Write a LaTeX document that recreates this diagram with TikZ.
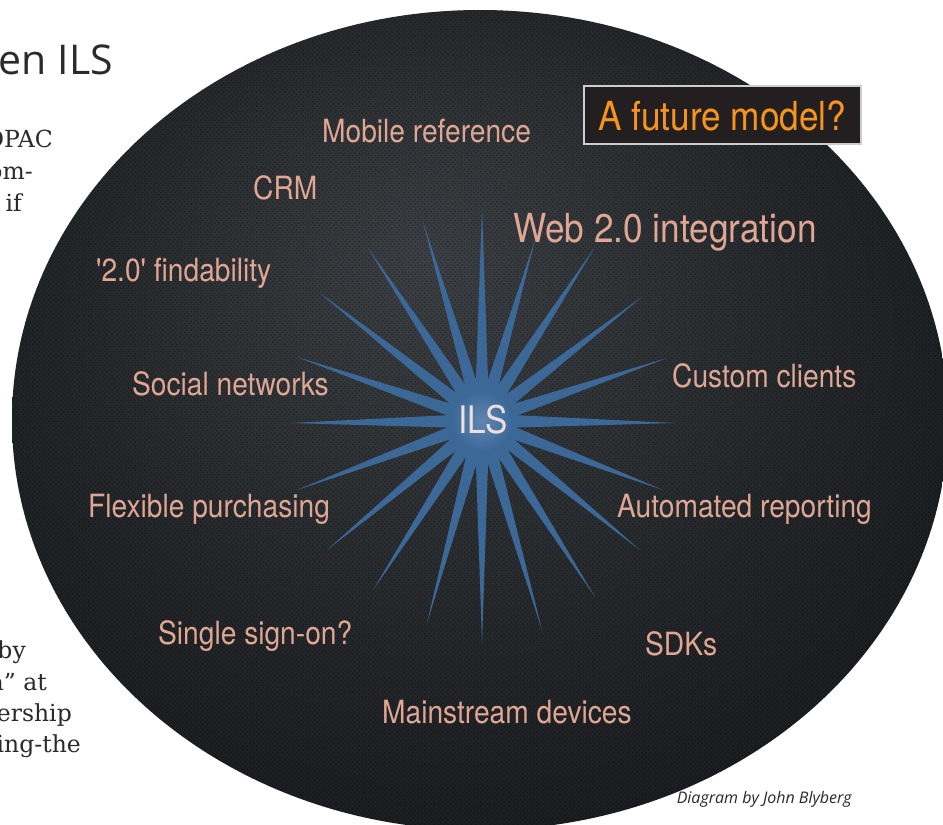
\documentclass[tikz,border=0pt]{standalone}
\usepackage{fontspec}
\usetikzlibrary{calc,patterns.meta,fadings}

\newfontfamily\labelfont{TeX Gyre Heros}[FakeStretch=0.88]
\newfontfamily\headfont{Open Sans}
\newfontfamily\bodyfont{DejaVu Serif}

\definecolor{labelpeach}{RGB}{224,166,148}
\definecolor{rayblue}{RGB}{60,104,152}
\definecolor{hubblue}{RGB}{74,118,166}
\definecolor{boxorange}{RGB}{247,148,29}
\definecolor{boxfill}{RGB}{35,31,32}
\definecolor{boxrim}{RGB}{205,205,205}
\definecolor{glowin}{RGB}{60,64,68}
\definecolor{glowmid}{RGB}{36,39,42}
\definecolor{glowout}{RGB}{11,12,14}
\definecolor{inkgray}{RGB}{42,42,42}
\definecolor{ilswhite}{RGB}{238,222,222}

% soft grey glow over the dark disc, a little above its middle
\pgfdeclareradialshading{meshglow}{\pgfpoint{-3bp}{10bp}}{%
  color(0bp)=(glowin); color(20bp)=(glowmid); color(46bp)=(glowout); color(50bp)=(glowout)}

% rays stay solid near the hub and thin out towards their tips
\pgfdeclareradialshading{raymask}{\pgfpointorigin}{%
  color(0bp)=(white); color(14bp)=(white); color(26bp)=(black!75!white); color(50bp)=(black)}
\pgfdeclarefading{rayfade}{\pgfuseshading{raymask}}

\tikzset{
  topic/.style={font=\labelfont\fontsize{32}{32}\selectfont, text=labelpeach,
                inner sep=0pt, anchor=base west},
  bigtopic/.style={topic, font=\labelfont\fontsize{40}{40}\selectfont},
  bodyline/.style={font=\bodyfont\fontsize{23.5}{23.5}\selectfont, text=inkgray,
                   inner sep=0pt, anchor=base east},
  ray/.style={fill=rayblue},
}

\begin{document}
\begin{tikzpicture}[x=1pt,y=-1pt]
\useasboundingbox (0,0) rectangle (943,825);
\clip (0,0) rectangle (943,825);
\fill[white] (0,0) rectangle (943,825);

% dark perforated disc
\path[shading=meshglow] (480,420) ellipse [x radius=468, y radius=410];
\fill[pattern={Dots[distance=3.3pt, angle=45, radius=0.85pt]}, pattern color=black,
      opacity=0.35] (480,420) ellipse [x radius=468, y radius=410];

% starburst round the hub
\coordinate (hubc) at (482,421);
\begin{scope}[transparency group, scope fading=rayfade, fit fading=false,
              fading transform={shift={(hubc)}, scale=8}]
\foreach \tx/\ty [count=\i] in {482/207, 535/240, 595/247, 642/297, 667/358,
    675/423, 663/490, 640/550, 595/597, 542/630, 482/643, 427/623, 373/590,
    327/550, 297/490, 290/423, 297/357, 320/293, 368/248, 423/222} {
  \coordinate (tip\i) at (\tx,\ty);
  \fill[ray] ($(hubc)!7.5pt!90:(tip\i)$) -- (tip\i) -- ($(hubc)!7.5pt!-90:(tip\i)$) -- cycle;
}
\end{scope}
\shade[inner color=hubblue!88!white, outer color=rayblue] (hubc) circle [radius=30];
\node[font=\labelfont\fontsize{38}{38}\selectfont, text=ilswhite, inner sep=0pt,
      anchor=base west] (ils) at (458,433) {ILS};

% topics
\node[topic] (mobile)   at (322,142) {Mobile reference};
\node[topic] (crm)      at (253,199) {CRM};
\node[topic] (find)     at (96,281)  {'2.0' findability};
\node[bigtopic] (web)   at (513,242) {Web 2.0 integration};
\node[topic] (custom)   at (672,387) {Custom clients};
\node[topic] (social)   at (132,395) {Social networks};
\node[topic] (flex)     at (88,517)  {Flexible purchasing};
\node[topic] (auto)     at (617,517) {Automated reporting};
\node[topic] (sso)      at (158,644) {Single sign-on?};
\node[topic] (sdk)      at (645,655) {SDKs};
\node[topic] (devices)  at (382,723) {Mainstream devices};

% caption box
\node[draw=boxrim, fill=boxfill, line width=1.5pt, minimum width=277pt,
      minimum height=58pt, anchor=north west, inner sep=0pt] (futurebox) at (583,85) {};
\node[font=\labelfont\fontsize{40}{40}\selectfont, text=boxorange, inner sep=0pt,
      anchor=base west] (future) at (598,130) {A future model?};

% page text beside the figure
\node[font=\headfont\fontsize{41}{41}\selectfont, text=inkgray, inner sep=0pt,
      anchor=base east] (head) at (113,74) {en ILS};
\node[bodyline] (b1) at (53,147)  {OPAC};
\node[bodyline] (b2) at (33,179)  {om-};
\node[bodyline] (b3) at (22,211)  {if};
\node[bodyline] (b4) at (26,658)  {by};
\node[bodyline] (b5) at (47,690)  {a” at};
\node[bodyline] (b6) at (72,721)  {bership};
\node[bodyline] (b7) at (81,752)  {ing-the};

% credit line
\node[font=\headfont\itshape\fontsize{16}{16}\selectfont, text=inkgray, inner sep=0pt,
      anchor=base east] (credit) at (852,803) {Diagram by John Blyberg};
\end{tikzpicture}
\end{document}
